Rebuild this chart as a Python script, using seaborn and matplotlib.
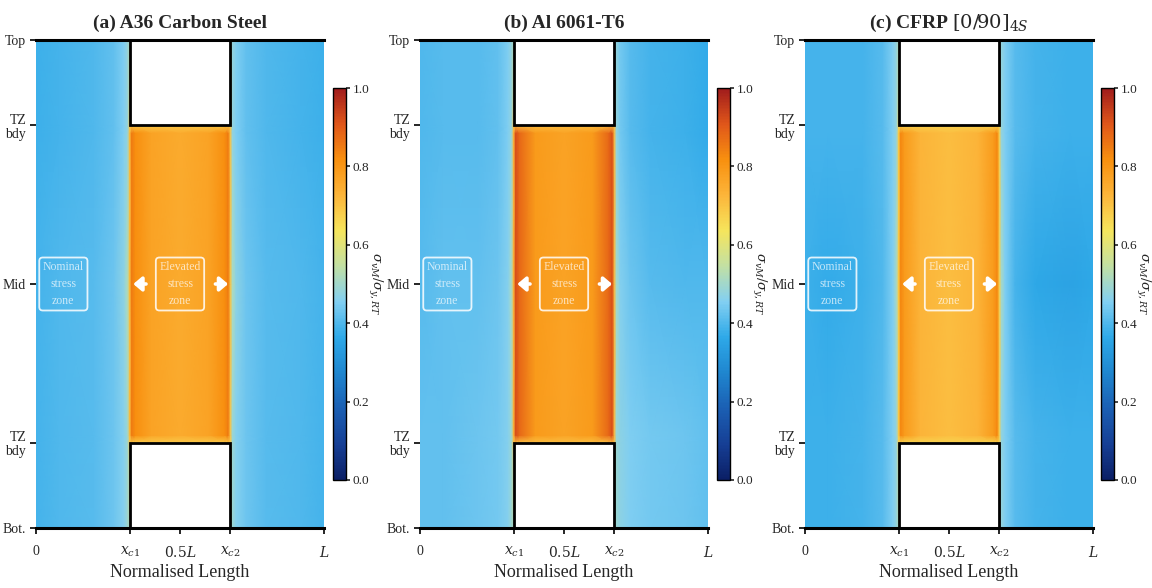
import numpy as np
import matplotlib
matplotlib.use('Agg')
import matplotlib.pyplot as plt
from matplotlib.patches import Rectangle
import seaborn as sns

sns.set_theme(style='white')
plt.rcParams['font.family'] = ['Liberation Serif', 'DejaVu Serif']
plt.rcParams['mathtext.fontset'] = 'dejavuserif'

# geometry of the specimen (normalised)
xc1, xc2 = 0.325, 0.675
tz_bot, tz_top = 0.175, 0.825

# sample positions along the length / height where the field was read
x_nodes = [0, 0.08, 0.2, 0.27, 0.305, 0.318, 0.325, 0.332, 0.345, 0.4, 0.5,
           0.6, 0.655, 0.668, 0.675, 0.682, 0.695, 0.73, 0.8, 0.92, 1.0]
y_nodes = [0, 0.175, 0.19, 0.5, 0.81, 0.825, 1.0]

# A36 carbon steel
a36_bot = [0.39, 0.40, 0.41, 0.43, 0.46, 0.49, 0.5, 0.5, 0.5, 0.5, 0.5,
           0.5, 0.5, 0.5, 0.5, 0.49, 0.46, 0.43, 0.41, 0.40, 0.39]
a36_mid = [0.39, 0.40, 0.41, 0.43, 0.47, 0.52, 0.70, 0.85, 0.82, 0.77, 0.75,
           0.77, 0.82, 0.85, 0.70, 0.52, 0.47, 0.43, 0.41, 0.40, 0.39]
a36_top = [0.38, 0.39, 0.40, 0.42, 0.45, 0.48, 0.5, 0.5, 0.5, 0.5, 0.5,
           0.5, 0.5, 0.5, 0.5, 0.48, 0.45, 0.42, 0.40, 0.39, 0.38]
a36_rim = 0.69

# Al 6061-T6
al_bot = [0.42, 0.42, 0.43, 0.44, 0.46, 0.49, 0.5, 0.5, 0.5, 0.5, 0.5,
          0.5, 0.5, 0.5, 0.5, 0.49, 0.47, 0.45, 0.44, 0.43, 0.42]
al_mid = [0.41, 0.42, 0.42, 0.43, 0.46, 0.51, 0.72, 0.92, 0.88, 0.79, 0.77,
          0.79, 0.88, 0.92, 0.72, 0.51, 0.46, 0.43, 0.41, 0.40, 0.40]
al_top = [0.40, 0.41, 0.41, 0.42, 0.45, 0.48, 0.5, 0.5, 0.5, 0.5, 0.5,
          0.5, 0.5, 0.5, 0.5, 0.48, 0.44, 0.41, 0.39, 0.38, 0.37]
al_rim = 0.71

# CFRP [0/90]4S
cf_bot = [0.38, 0.38, 0.39, 0.41, 0.45, 0.48, 0.5, 0.5, 0.5, 0.5, 0.5,
          0.5, 0.5, 0.5, 0.5, 0.48, 0.45, 0.41, 0.39, 0.38, 0.38]
cf_mid = [0.38, 0.37, 0.38, 0.40, 0.45, 0.51, 0.68, 0.83, 0.79, 0.73, 0.71,
          0.73, 0.79, 0.83, 0.68, 0.51, 0.45, 0.39, 0.36, 0.35, 0.36]
cf_top = [0.39, 0.39, 0.39, 0.41, 0.45, 0.48, 0.5, 0.5, 0.5, 0.5, 0.5,
          0.5, 0.5, 0.5, 0.5, 0.48, 0.45, 0.41, 0.39, 0.38, 0.38]
cf_rim = 0.67

titles = ['(a) A36 Carbon Steel', '(b) Al 6061-T6', r'(c) CFRP $[0/90]_{4S}$']
fields = [(a36_bot, a36_mid, a36_top, a36_rim),
          (al_bot, al_mid, al_top, al_rim),
          (cf_bot, cf_mid, cf_top, cf_rim)]

ytick_pos = [0, tz_bot, 0.5, tz_top, 1]
ytick_lab = ['Bot.', 'TZ\nbdy', 'Mid', 'TZ\nbdy', 'Top']
xtick_pos = [0, xc1, 0.5, xc2, 1]
xtick_lab = ['0', r'$x_{c1}$', r'$0.5L$', r'$x_{c2}$', r'$L$']

cmap = sns.blend_palette(['#0b1f66', '#163f95', '#1b5fb3', '#1f86cf', '#2ea9e8',
                          '#82cff2', '#c2e0a4', '#f6e55c', '#fcb53a', '#f8900f',
                          '#e0561a', '#a01c1c'], as_cmap=True)

fig = plt.figure(figsize=(11.52, 5.88), dpi=100)
ax_left = [36, 420, 805]
cb_left = [333, 717, 1101]

band = [(x >= xc1 and x <= xc2) for x in x_nodes]

for k in range(3):
    bot, mid, top, rim = fields[k]
    n = len(x_nodes)
    row_rim_lo = [rim if band[i] else bot[i] for i in range(n)]
    row_rim_hi = [rim if band[i] else top[i] for i in range(n)]
    row_lo = [mid[i] if band[i] else bot[i] for i in range(n)]
    row_hi = [mid[i] if band[i] else top[i] for i in range(n)]
    C = np.array([bot, row_rim_lo, row_lo, mid, row_hi, row_rim_hi, top])

    ax = fig.add_axes([ax_left[k] / 1152, 60 / 588, 288 / 1152, 488 / 588])
    X, Y = np.meshgrid(x_nodes, y_nodes)
    mesh = ax.pcolormesh(X, Y, C, shading='gouraud', cmap=cmap, vmin=0, vmax=1)

    for y0 in [0, tz_top]:
        ax.add_patch(Rectangle((xc1, y0), xc2 - xc1, tz_bot, facecolor='white',
                               edgecolor='black', lw=2, zorder=3))

    ax.set_xlim(0, 1)
    ax.set_ylim(0, 1)
    for s in ['left', 'right']:
        ax.spines[s].set_visible(False)
    for s in ['top', 'bottom']:
        ax.spines[s].set_linewidth(2.2)
        ax.spines[s].set_color('black')
        ax.spines[s].set_zorder(4)
    ax.set_yticks(ytick_pos)
    ax.set_yticklabels(ytick_lab, fontsize=10, linespacing=1.1)
    ax.set_xticks(xtick_pos)
    ax.set_xticklabels(xtick_lab, fontsize=10)
    ax.tick_params(axis='both', length=4, width=1.2, color='black', direction='out',
                   left=True, bottom=True, pad=3)
    ax.tick_params(axis='x', pad=8)
    ax.set_xlabel('Normalised Length', fontsize=13, labelpad=3)
    ax.set_title(titles[k], fontsize=14, fontweight='bold', pad=9)

    box = dict(boxstyle='round,pad=0.3', fc='none', ec='white', lw=1.3, alpha=0.85)
    ax.text(0.095, 0.5, 'Nominal\nstress\nzone', ha='center', va='center', fontsize=8.5,
            color='white', alpha=0.7, linespacing=1.55, bbox=box, zorder=5)
    ax.text(0.5, 0.5, 'Elevated\nstress\nzone', ha='center', va='center', fontsize=8.5,
            color='white', alpha=0.7, linespacing=1.55, bbox=box, zorder=5)
    arr = dict(arrowstyle='-|>,head_width=0.3,head_length=0.35', color='white',
               lw=2.6, mutation_scale=14, shrinkA=0, shrinkB=0)
    ax.annotate('', xy=(0.338, 0.5), xytext=(0.382, 0.5), arrowprops=arr, zorder=5)
    ax.annotate('', xy=(0.667, 0.5), xytext=(0.623, 0.5), arrowprops=arr, zorder=5)

    cax = fig.add_axes([cb_left[k] / 1152, 108 / 588, 13 / 1152, 392 / 588])
    cb = fig.colorbar(mesh, cax=cax, ticks=[0, 0.2, 0.4, 0.6, 0.8, 1.0])
    cb.outline.set_linewidth(1)
    cb.outline.set_edgecolor('black')
    cb.ax.tick_params(labelsize=9.5, length=3, width=1.2, right=True, pad=2)
    cb.set_label(r'$\sigma_{vM}/\sigma_{y,RT}$', fontsize=9.5, rotation=270, labelpad=10)

fig.savefig('out.png', dpi=100)
